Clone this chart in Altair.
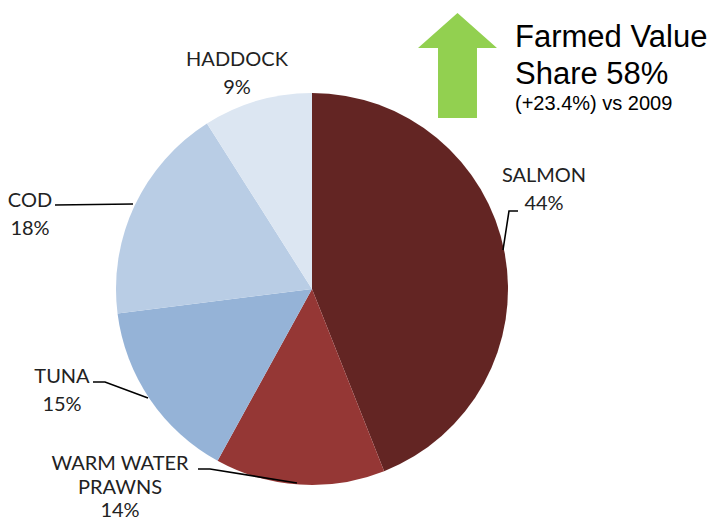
import altair as alt
import pandas as pd

# ---- data ----
species = ["SALMON", "WARM WATER PRAWNS", "TUNA", "COD", "HADDOCK"]
shares = [44, 14, 15, 18, 9]
colors = ["#632523", "#953735", "#95B3D7", "#B9CDE5", "#DCE6F2"]
headline = ["Farmed Value", "Share 58%"]
subline = "(+23.4%) vs 2009"

# ---- layout (image pixel coords, page margin 8) ----
OFF = 8
def px(v):
    return v - OFF

CX, CY, R = px(312), px(289), 196
FONT = "Lato"
LSIZE = 20

pie_df = pd.DataFrame({"species": species, "share": shares, "order": list(range(len(species)))})
pie = alt.Chart(pie_df).mark_arc(outerRadius=R).encode(
    theta=alt.Theta("share:Q", stack=True),
    color=alt.Color("species:N", scale=alt.Scale(domain=species, range=colors), legend=None),
    order=alt.Order("order:Q"),
    x=alt.value(CX),
    y=alt.value(CY),
)

# label text rows: (text, x, baseline y, line spacing)
label_names = {
    "SALMON": ["SALMON"],
    "WARM WATER PRAWNS": ["WARM WATER", "PRAWNS"],
    "TUNA": ["TUNA"],
    "COD": ["COD"],
    "HADDOCK": ["HADDOCK"],
}
label_pos = {
    "SALMON": (544, 182, 28),
    "WARM WATER PRAWNS": (120, 470, 23.5),
    "TUNA": (62, 383, 28),
    "COD": (30, 207, 28),
    "HADDOCK": (237, 66, 28),
}
rows = []
for sp, sh in zip(species, shares):
    lines = label_names[sp] + [f"{sh}%"]
    x0, y0, lh = label_pos[sp]
    for i, t in enumerate(lines):
        rows.append({"t": t, "x": px(x0), "y": px(y0 + i * lh)})
lab_df = pd.DataFrame(rows)
labels = alt.Chart(lab_df).mark_text(
    font=FONT, fontSize=LSIZE, color="#222222", align="center", baseline="alphabetic"
).encode(
    x=alt.X("x:Q", scale=None),
    y=alt.Y("y:Q", scale=None),
    text="t:N",
)

# leader lines
leaders = {
    "SALMON": [(518, 211), (509, 211), (503, 250)],
    "WARM WATER PRAWNS": [(198, 469), (210, 469), (297, 483)],
    "TUNA": [(93, 382), (105, 382), (148, 398)],
    "COD": [(55, 205), (133, 204)],
}
lrows = []
for k, pts in leaders.items():
    for i, (x, y) in enumerate(pts):
        lrows.append({"k": k, "i": i, "x": px(x), "y": px(y)})
lead = alt.Chart(pd.DataFrame(lrows)).mark_line(color="#000000", strokeWidth=1.6).encode(
    x=alt.X("x:Q", scale=None),
    y=alt.Y("y:Q", scale=None),
    detail="k:N",
    order="i:Q",
)

# green arrow
arrow_path = "M0,-1 L0.752,-0.333 L0.371,-0.333 L0.371,1 L-0.371,1 L-0.371,-0.333 L-0.752,-0.333 Z"
arrow = alt.Chart(pd.DataFrame({"a": [1]})).mark_point(
    shape=arrow_path, filled=True, color="#92D050", opacity=1, size=105 * 105, strokeWidth=0
).encode(x=alt.value(px(457.5)), y=alt.value(px(65.5)))

head_df = pd.DataFrame({"t": headline, "y": [px(47), px(84)]})
head = alt.Chart(head_df).mark_text(
    font="Liberation Sans", fontSize=31, color="#000000", align="left", baseline="alphabetic"
).encode(x=alt.value(px(515)), y=alt.Y("y:Q", scale=None), text="t:N")

sub = alt.Chart(pd.DataFrame({"t": [subline]})).mark_text(
    font="Liberation Sans", fontSize=20, color="#000000", align="left", baseline="alphabetic"
).encode(x=alt.value(px(515)), y=alt.value(px(110)), text="t:N")

chart = alt.layer(pie, lead, labels, arrow, head, sub).properties(
    width=700, height=514, autosize=alt.AutoSizeParams(type="none"), padding=0
).configure_view(stroke=None)

chart.save("out.html", embed_options={"renderer": "svg", "actions": False})
